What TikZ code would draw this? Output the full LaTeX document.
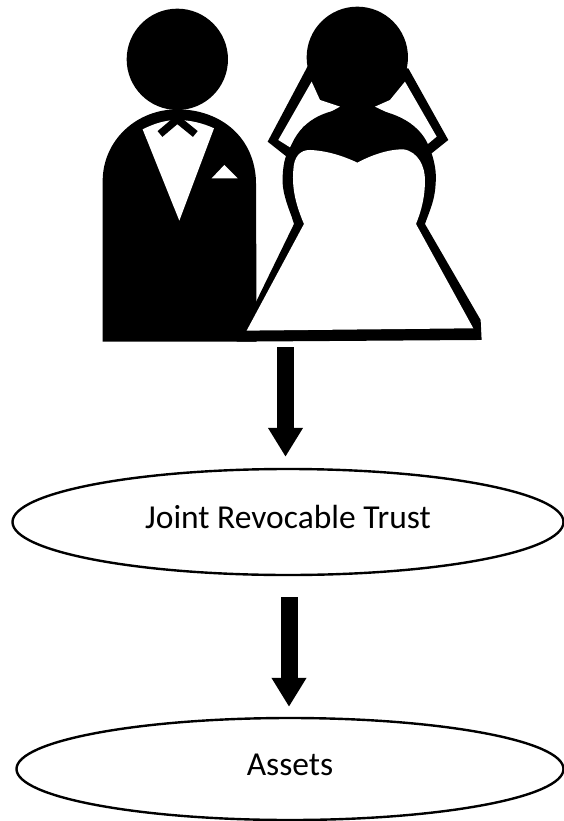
\documentclass[tikz,border=0pt]{standalone}
\usepackage{fontspec}
\setmainfont{Carlito}
\usetikzlibrary{arrows.meta,shapes.geometric}
\tikzset{
  oval/.style={ellipse, draw=black, fill=white, line width=2.4pt, inner sep=0pt, align=center,
               text height=20pt, text depth=8pt, font=\fontsize{33.5}{36}\selectfont},
  arr/.style={-{Triangle[length=29pt, width=33pt]}, line width=17pt, black},
  inked/.style={fill=black},
  blank/.style={fill=white},
}
\begin{document}
\begin{tikzpicture}[x=1pt, y=-1pt]
\useasboundingbox (0,0) rectangle (564,821);
% groom
\begin{scope}[shift={(90,0)}, x=0.3333pt, y=-0.3333pt]
\fill[inked] (262,178) circle[radius=152];
\fill[inked] (38,1025) -- (38,540) .. controls (40,420) and (140,328) .. (262,328)
  .. controls (380,328) and (490,400) .. (498,540) -- (500,1025) -- cycle;
\fill[blank] (158,388) .. controls (190,372) and (225,360) .. (262,360)
  .. controls (300,360) and (340,370) .. (372,385) -- (268,662) -- cycle;
\draw[black, line width=7.5pt] (210,402) -- (262,358) -- (316,402);
\fill[blank] (365,535) -- (403,495) -- (443,535) -- cycle;
\end{scope}
% bride
\begin{scope}[shift={(90,0)}, x=0.3333pt, y=-0.3333pt]
\fill[inked] (655,195) -- (533,425) -- (590,470) -- (1025,460) -- (1075,420) -- (955,205) -- cycle;
\fill[blank] (665,245) -- (565,420) -- (600,442) -- (640,380) -- (750,320) -- (690,300) -- cycle;
\fill[blank] (945,245) -- (1040,410) -- (1010,435) -- (960,370) -- (855,320) -- (900,300) -- cycle;
\fill[inked] (802,172) circle[radius=152];
\fill[inked] (440,1025) -- (612,672) -- (605,650) .. controls (590,610) and (575,570) .. (578,530)
  .. controls (580,480) and (590,460) .. (600,445) .. controls (630,365) and (700,325) .. (800,325)
  .. controls (900,325) and (985,365) .. (1015,435) .. controls (1035,480) and (1040,520) .. (1037,550)
  .. controls (1035,600) and (1020,630) .. (1005,672) -- (1172,960) -- (1175,1020) -- cycle;
\fill[blank] (470,992) -- (642,672) .. controls (620,620) and (605,570) .. (610,510)
  .. controls (612,470) and (630,450) .. (660,450) .. controls (710,452) and (760,468) .. (802,488)
  .. controls (840,468) and (890,448) .. (940,448) .. controls (985,455) and (1005,500) .. (1005,540)
  .. controls (1005,590) and (995,630) .. (978,672) -- (1150,985) -- cycle;
\end{scope}
% ovals
\coordinate (couple) at (285.5,347);
\node[oval, minimum width=551pt, minimum height=106pt] (trust) at (288,522) {Joint Revocable Trust};
\node[oval, minimum width=547pt, minimum height=102pt] (assets) at (290,769) {Assets};
% arrows
\draw[arr, shorten >=11pt] (couple) -- (couple |- trust.north);
\draw[arr, shorten <=21pt, shorten >=10pt] ([xshift=1pt]trust.south) -- ([xshift=-1pt]assets.north);
\end{tikzpicture}
\end{document}
